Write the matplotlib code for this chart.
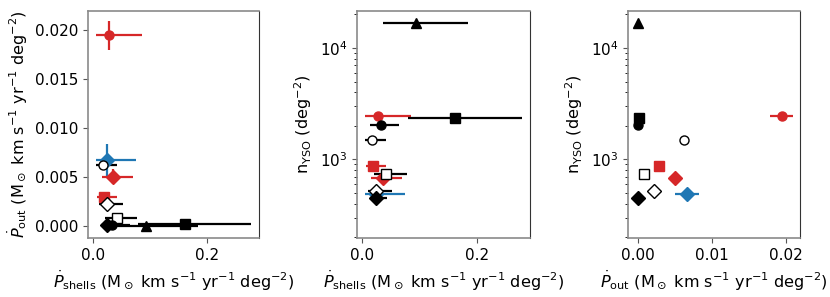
import matplotlib
matplotlib.use("Agg")
import matplotlib.pyplot as plt
import numpy as np

# Data
names = ["red_circle", "blue_diamond", "open_circle", "red_diamond", "red_square",
         "open_diamond", "open_square", "black_circle", "black_diamond",
         "black_triangle", "black_square"]
pshells = [0.028, 0.023, 0.017, 0.035, 0.018, 0.023, 0.041, 0.033, 0.024, 0.093, 0.162]
pshells_lo = [0.004, 0.004, 0.005, 0.015, 0.006, 0.010, 0.020, 0.014, 0.015, 0.035, 0.079]
pshells_hi = [0.085, 0.075, 0.041, 0.069, 0.041, 0.052, 0.077, 0.064, 0.042, 0.185, 0.278]
pout = [0.0194, 0.0067, 0.0062, 0.0050, 0.0029, 0.0022, 0.0008, 0.0001, 0.0001, 0.0000, 0.0002]
pout_err = [0.0015, 0.0016, 0.0001, 0.0008, 0.0004, 0.0001, 0.0001, 0.0, 0.0, 0.0, 0.0]
nyso = [2440, 489, 1490, 676, 871, 520, 743, 2055, 453, 16800, 2330]
markers = ["o", "D", "o", "D", "s", "D", "s", "o", "D", "^", "s"]
colors = ["tab:red", "tab:blue", "k", "tab:red", "tab:red", "k", "k", "k", "k", "k", "k"]
filled = [True, True, False, True, True, False, False, True, True, True, True]

xlabel_shells = r"$\dot{P}_{\rm shells}$ (M$_\odot$ km s$^{-1}$ yr$^{-1}$ deg$^{-2}$)"
xlabel_out = r"$\dot{P}_{\rm out}$ (M$_\odot$ km s$^{-1}$ yr$^{-1}$ deg$^{-2}$)"
ylabel_n = r"n$_{\rm YSO}$ (deg$^{-2}$)"

plt.rcParams["font.size"] = 11
plt.rcParams["axes.labelsize"] = 11.6
fig = plt.figure(figsize=(8.3, 2.97), dpi=100)
bottom, height = 0.199, 0.764
ax1 = fig.add_axes([0.106, bottom, 0.206, height])
ax2 = fig.add_axes([0.430, bottom, 0.208, height])
ax3 = fig.add_axes([0.757, bottom, 0.207, height])

msizes = {"o": 6.5, "D": 7, "s": 6.5, "^": 6.5}

for i in range(len(names)):
    c = colors[i]
    fc = c if filled[i] else "white"
    ms = msizes[markers[i]]
    xerr = [[pshells[i] - pshells_lo[i]], [pshells_hi[i] - pshells[i]]]
    kw = dict(fmt=markers[i], color=c, mfc=fc, mec=c if filled[i] else "k",
              ms=ms, elinewidth=1.6, capsize=0)
    ax1.errorbar([pshells[i]], [pout[i]], xerr=xerr, yerr=[pout_err[i]], **kw)
    ax2.errorbar([pshells[i]], [nyso[i]], xerr=xerr, **kw)
    ax3.errorbar([pout[i]], [nyso[i]], xerr=[pout_err[i]], **kw)

ax1.set_xlabel(xlabel_shells)
ax1.set_ylabel(xlabel_out)
ax1.set_xticks([0.0, 0.2])
ax1.set_yticks([0.0, 0.005, 0.010, 0.015, 0.020])
ax1.set_ylim(-0.00125, 0.0219)

ax2.set_yscale("log")
ax2.set_xlabel(xlabel_shells)
ax2.set_ylabel(ylabel_n)
ax2.set_xticks([0.0, 0.2])
ax2.set_ylim(197, 21500)

ax3.set_yscale("log")
ax3.set_xlabel(xlabel_out)
ax3.set_ylabel(ylabel_n)
ax3.set_xticks([0.0, 0.01, 0.02])
ax3.set_xlim(-0.00125, 0.0219)
ax3.set_ylim(197, 21500)

for ax in (ax1, ax2, ax3):
    for s in ("left", "top", "bottom"):
        ax.spines[s].set_color("#8a8a8a")
        ax.spines[s].set_linewidth(1.2)
    ax.spines["right"].set_color("#333333")
    ax.tick_params(color="#555555")

fig.savefig("out.png", dpi=100)
